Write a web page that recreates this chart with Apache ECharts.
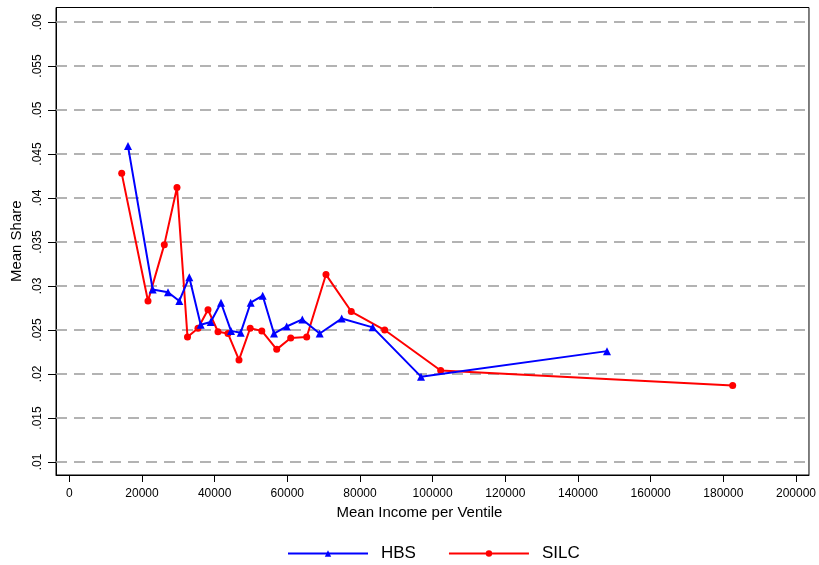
<!DOCTYPE html>
<html>
<head>
<meta charset="utf-8">
<script src="https://cdn.jsdelivr.net/npm/echarts@6/dist/echarts.min.js"></script>
<style>
html,body{margin:0;padding:0;background:#fff;}
#c{width:819px;height:565px;}
</style>
</head>
<body>
<div id="c"></div>
<script>
// ---- data ----
const hbsIncome = [16155, 22953, 27164, 30274, 33026, 36164, 38916, 41751, 44503, 47172,
                   49924, 53227, 56337, 59832, 64125, 68914, 74969, 83501, 96794, 147984];
const hbsShare  = [0.0459, 0.0296, 0.0293, 0.0283, 0.0310, 0.0256, 0.0259, 0.0281, 0.0249, 0.0247,
                   0.0281, 0.0289, 0.0246, 0.0254, 0.0262, 0.0246, 0.0263, 0.0253, 0.0197, 0.0226];
const silcIncome = [14421, 21660, 26146, 29641, 32531, 35420, 38173, 40925, 43677, 46704,
                    49787, 52979, 57080, 60933, 65337, 70648, 77611, 86803, 102215, 182579];
const silcShare  = [0.0428, 0.0283, 0.0347, 0.0412, 0.0242, 0.0252, 0.0273, 0.0248, 0.0246, 0.0216,
                    0.0252, 0.0249, 0.0228, 0.0241, 0.0242, 0.0313, 0.0271, 0.0250, 0.0204, 0.0187];
const xTickLabels = ["0","20000","40000","60000","80000","100000","120000","140000","160000","180000","200000"];
const yTickLabels = [".01",".015",".02",".025",".03",".035",".04",".045",".05",".055",".06"];

const xTicks = xTickLabels.map(Number);
const yTicks = yTickLabels.map(s => parseFloat("0" + s));
const pairs = (xs, ys) => xs.map((x, i) => [x, ys[i]]);

const X_MIN = -3660, X_MAX = 203578;

const chart = echarts.init(document.getElementById('c'), null, {renderer: 'canvas'});
const font = 'Liberation Sans, Arial, sans-serif';
chart.setOption({
  backgroundColor: '#ffffff',
  animation: false,
  grid: {left: 56, right: 10, top: 7.5, bottom: 90, show: true, borderColor: '#000', borderWidth: 1, backgroundColor: 'transparent'},
  xAxis: {
    type: 'value', min: X_MIN, max: X_MAX,
    name: 'Mean Income per Ventile', nameLocation: 'middle', nameGap: 28,
    nameTextStyle: {fontFamily: font, fontSize: 15, color: '#000', padding: [0, 26, 0, 0]},
    axisLine: {show: true, onZero: false, lineStyle: {color: '#000', width: 1}},
    axisTick: {show: true, length: 7, lineStyle: {color: '#000'}, customValues: xTicks},
    axisLabel: {customValues: xTicks, formatter: v => String(v), fontFamily: font, fontSize: 12, color: '#000', margin: 13},
    splitLine: {show: false}
  },
  yAxis: {
    type: 'value', min: 0.008523, max: 0.06165,
    name: 'Mean Share', nameLocation: 'middle', nameGap: 31, nameRotate: 90,
    nameTextStyle: {fontFamily: font, fontSize: 15, color: '#000'},
    axisLine: {show: true, onZero: false, lineStyle: {color: '#000', width: 1}},
    axisTick: {show: true, length: 8, lineStyle: {color: '#000'}, customValues: yTicks},
    axisLabel: {customValues: yTicks, rotate: 90, formatter: v => String(+v.toFixed(4)).replace(/^0/, ''),
                fontFamily: font, fontSize: 12, color: '#000', margin: 12},
    splitLine: {show: false}
  },
  legend: {
    bottom: -2, left: 282, itemWidth: 80, itemHeight: 8, itemGap: 32,
    textStyle: {fontFamily: font, fontSize: 17, color: '#000', padding: [0, 0, 0, 8]},
    data: ['HBS', 'SILC']
  },
  series: [
    {
      name: 'HBS', type: 'line', data: pairs(hbsIncome, hbsShare),
      symbol: 'triangle', symbolSize: 8, color: '#0000ff',
      lineStyle: {color: '#0000ff', width: 2}, itemStyle: {color: '#0000ff'},
      z: 3,
      markLine: {
        silent: true, symbol: 'none', z: 1, label: {show: false}, precision: 4,
        lineStyle: {color: '#9a9a9a', type: [11, 7], width: 1.5},
        data: yTicks.map(v => [{coord: [X_MIN, v]}, {coord: [X_MAX, v]}])
      }
    },
    {
      name: 'SILC', type: 'line', data: pairs(silcIncome, silcShare),
      symbol: 'circle', symbolSize: 7, color: '#ff0000',
      lineStyle: {color: '#ff0000', width: 2}, itemStyle: {color: '#ff0000'},
      z: 2
    }
  ]
});
</script>
</body>
</html>
